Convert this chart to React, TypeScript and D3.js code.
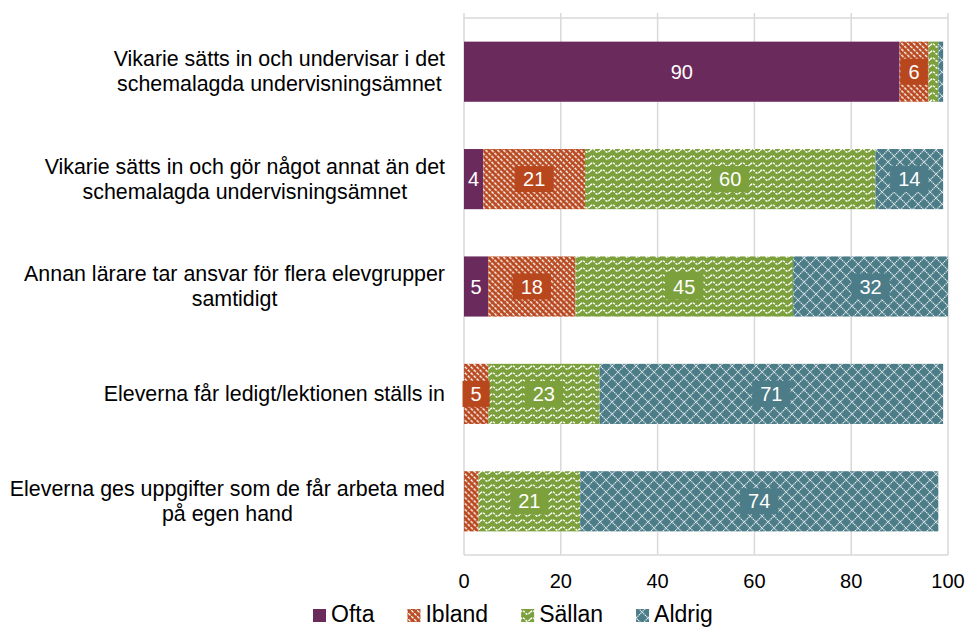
import { useEffect, useRef } from 'react';
import * as d3 from 'd3';

const categories = [
  'Vikarie sätts in och undervisar i det\nschemalagda undervisningsämnet',
  'Vikarie sätts in och gör något annat än det\nschemalagda undervisningsämnet',
  'Annan lärare tar ansvar för flera elevgrupper\nsamtidigt',
  'Eleverna får ledigt/lektionen ställs in',
  'Eleverna ges uppgifter som de får arbeta med\npå egen hand',
];
const seriesNames = ['Ofta', 'Ibland', 'Sällan', 'Aldrig'];
const ofta = [90, 4, 5, 0, 0];
const ibland = [6, 21, 18, 5, 3];
const sallan = [2, 60, 45, 23, 21];
const aldrig = [1, 14, 32, 71, 74];
const xTicks = [0, 20, 40, 60, 80, 100];

const colors = ['#6b2a5c', '#b8471d', '#7ca03c', '#4b7c87'];
const FONT = "Arial, 'Liberation Sans', sans-serif";

const App = () => {
  const svgRef = useRef<SVGSVGElement>(null);

  useEffect(() => {
    const svg = d3.select(svgRef.current);
    svg.selectAll('*').remove();

    const width = 969;
    const height = 628;
    const plot = { left: 464, right: 948, top: 18, bottom: 555 };

    const x = d3.scaleLinear().domain([0, 100]).range([plot.left, plot.right]);
    const y = d3
      .scaleBand()
      .domain(categories)
      .range([plot.top, plot.bottom])
      .paddingInner(0.44)
      .paddingOuter(0.22);

    svg.attr('width', width).attr('height', height);

    // Patterns
    const defs = svg.append('defs');
    const pIbland = defs
      .append('pattern')
      .attr('id', 'p1')
      .attr('patternUnits', 'userSpaceOnUse')
      .attr('width', 4.2)
      .attr('height', 4.2)
      .attr('patternTransform', 'rotate(45)');
    pIbland.append('rect').attr('width', 4.2).attr('height', 4.2).attr('fill', colors[1]);
    pIbland
      .append('line')
      .attr('x1', 0)
      .attr('x2', 4.2)
      .attr('y1', 2.1)
      .attr('y2', 2.1)
      .attr('stroke', '#fff')
      .attr('stroke-width', 1.4)
      .attr('stroke-dasharray', '3,1.2');

    const pSallan = defs
      .append('pattern')
      .attr('id', 'p2')
      .attr('patternUnits', 'userSpaceOnUse')
      .attr('width', 10)
      .attr('height', 7);
    pSallan.append('rect').attr('width', 10).attr('height', 7).attr('fill', colors[2]);
    pSallan
      .append('path')
      .attr('d', 'M0,3.5 Q2.5,0.3 5,3.5 T10,3.5')
      .attr('fill', 'none')
      .attr('stroke', '#fff')
      .attr('stroke-width', 1.4)
      .attr('stroke-dasharray', '2.4,0.9');

    const pAldrig = defs
      .append('pattern')
      .attr('id', 'p3')
      .attr('patternUnits', 'userSpaceOnUse')
      .attr('width', 12)
      .attr('height', 12);
    pAldrig.append('rect').attr('width', 12).attr('height', 12).attr('fill', colors[3]);
    pAldrig
      .append('path')
      .attr('d', 'M0,6 L6,0 L12,6 L6,12 Z')
      .attr('fill', 'none')
      .attr('stroke', '#fff')
      .attr('stroke-opacity', 0.9)
      .attr('stroke-width', 1.1)
      .attr('stroke-dasharray', '1.4,0.7');

    const fills = [colors[0], 'url(#p1)', 'url(#p2)', 'url(#p3)'];

    // Grid and frame
    const grid = svg.append('g');
    grid
      .selectAll('line.grid')
      .data(xTicks)
      .enter()
      .append('line')
      .attr('x1', (d) => x(d))
      .attr('x2', (d) => x(d))
      .attr('y1', plot.top - 5)
      .attr('y2', plot.bottom)
      .attr('stroke', '#d9d9d9')
      .attr('stroke-width', 1.5);
    [plot.top, plot.bottom].forEach((yy) =>
      grid
        .append('line')
        .attr('x1', plot.left)
        .attr('x2', plot.right)
        .attr('y1', yy)
        .attr('y2', yy)
        .attr('stroke', '#d9d9d9')
        .attr('stroke-width', 1.5)
    );

    // Tick labels
    svg
      .append('g')
      .selectAll('text')
      .data(xTicks)
      .enter()
      .append('text')
      .attr('x', (d) => x(d))
      .attr('y', 588)
      .attr('text-anchor', 'middle')
      .style('font-family', FONT)
      .style('font-size', '20px')
      .attr('fill', '#000')
      .text((d) => d);

    // Stacked bars
    const series = [ofta, ibland, sallan, aldrig];
    const rows = categories.map((c, i) => {
      const row: any = { cat: c };
      seriesNames.forEach((s, k) => (row[s] = series[k][i]));
      return row;
    });
    const stacked = d3.stack().keys(seriesNames)(rows);

    const bars = svg.append('g');
    stacked.forEach((layer, k) => {
      bars
        .append('g')
        .selectAll('rect')
        .data(layer.filter((d) => d[1] - d[0] > 0))
        .enter()
        .append('rect')
        .attr('x', (d) => x(d[0]))
        .attr('y', (d) => y(d.data.cat as string)!)
        .attr('width', (d) => x(d[1]) - x(d[0]))
        .attr('height', y.bandwidth())
        .attr('fill', fills[k]);
    });

    // Data labels
    const labels = svg.append('g');
    stacked.forEach((layer, k) => {
      layer.forEach((d) => {
        const v = d[1] - d[0];
        if (v < 4) return;
        const cx = x((d[0] + d[1]) / 2);
        const cy = y(d.data.cat as string)! + y.bandwidth() / 2;
        const g = labels.append('g');
        const box = g.append('rect');
        const t = g
          .append('text')
          .attr('x', cx)
          .attr('y', cy + 7)
          .attr('text-anchor', 'middle')
          .style('font-family', FONT)
          .style('font-size', '20px')
          .attr('fill', '#fff')
          .text(v);
        if (k === 0) return; // solid series, no box needed
        const w = (t.node() as SVGTextElement).getComputedTextLength() + 16;
        box
          .attr('x', cx - w / 2)
          .attr('y', cy - 13)
          .attr('width', w)
          .attr('height', 26)
          .attr('fill', colors[k]);
      });
    });

    // Category labels
    const catG = svg.append('g');
    const lineH = 25;
    categories.forEach((c) => {
      const lines = c.split('\n');
      const cy = y(c)! + y.bandwidth() / 2;
      const texts = lines.map((ln, i) =>
        catG
          .append('text')
          .attr('y', cy + 7 + (i - (lines.length - 1) / 2) * lineH)
          .attr('text-anchor', 'middle')
          .style('font-family', FONT)
          .style('font-size', '21.4px')
          .attr('fill', '#000')
          .text(ln)
      );
      const maxW = d3.max(texts, (t) => (t.node() as SVGTextElement).getComputedTextLength())!;
      texts.forEach((t) => t.attr('x', 445 - maxW / 2));
    });

    // Legend
    const legend = svg.append('g');
    let lx = 313;
    seriesNames.forEach((s, k) => {
      legend
        .append('rect')
        .attr('x', lx)
        .attr('y', 609)
        .attr('width', 13)
        .attr('height', 13)
        .attr('fill', fills[k]);
      const t = legend
        .append('text')
        .attr('x', lx + 18)
        .attr('y', 622)
        .style('font-family', FONT)
        .style('font-size', '23px')
        .attr('fill', '#000')
        .text(s);
      lx += 18 + (t.node() as SVGTextElement).getComputedTextLength() + 33;
    });
  }, []);

  return (
    <svg
      ref={svgRef}
      style={{ position: 'absolute', left: 0, top: 0, display: 'block', background: '#fff' }}
    />
  );
};

export default App;
